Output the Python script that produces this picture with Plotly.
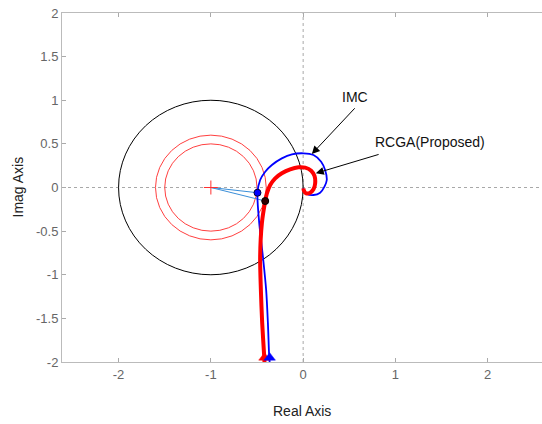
import plotly.graph_objects as go

# ---- data ----
imc_x = [-0.363, -0.368, -0.382, -0.401, -0.436, -0.476, -0.495, -0.466, -0.411, -0.339, -0.231,
         -0.122, 0.003, 0.112, 0.195, 0.238, 0.256, 0.231, 0.184, 0.112, 0.04, 0.003, 0.003]
imc_y = [-2.0, -1.938, -1.552, -1.174, -0.793, -0.407, -0.06, 0.086, 0.181, 0.258, 0.334,
         0.38, 0.392, 0.372, 0.296, 0.2, 0.086, 0.01, -0.06, -0.086, -0.074, -0.036, -0.01]

rcga_x = [-0.419, -0.422, -0.444, -0.458, -0.466, -0.447, -0.411, -0.393, -0.357, -0.303, -0.231,
          -0.141, -0.05, 0.022, 0.087, 0.123, 0.13, 0.112, 0.076, 0.032, 0.008, 0.003]
rcga_y = [-2.0, -1.938, -1.552, -1.174, -0.793, -0.407, -0.155, -0.067, 0.029, 0.105, 0.163,
          0.208, 0.231, 0.227, 0.193, 0.132, 0.048, -0.021, -0.06, -0.067, -0.037, -0.01]

critical_point = (-1.0, 0.0)
imc_dot = (-0.495, -0.06)
rcga_dot = (-0.411, -0.155)

circle_center = (-1.0, 0.0)
unit_radius = 1.0
red_radii = [0.5, 0.6]

arrow_x = [-0.419, -0.363]
arrow_y = [-1.95, -1.95]
arrow_colors = ["#ff0000", "#0000ff"]

x_ticks = [-2, -1, 0, 1, 2]
y_ticks = [-2, -1.5, -1, -0.5, 0, 0.5, 1, 1.5, 2]
y_tick_text = ["-2", "-1.5", "-1", "-0.5", "0", "0.5", "1", "1.5", "2"]

labels = [
    dict(text="IMC", tx=0.563, ty=1.04, ax=0.574, ay=0.925, hx=0.094, hy=0.384),
    dict(text="RCGA(Proposed)", tx=1.375, ty=0.525, ax=0.834, ay=0.384, hx=0.137, hy=0.163),
]

FONT = "Liberation Sans, Arial, sans-serif"

fig = go.Figure()

# lines from critical point to the dots
for d in (imc_dot, rcga_dot):
    fig.add_trace(go.Scatter(x=[critical_point[0], d[0]], y=[critical_point[1], d[1]],
                             mode="lines", line=dict(color="#3a8ed8", width=1),
                             showlegend=False, hoverinfo="skip"))

fig.add_trace(go.Scatter(x=imc_x, y=imc_y, mode="lines",
                         line=dict(color="#0000ff", width=1.8, shape="spline", smoothing=0.8),
                         showlegend=False))
fig.add_trace(go.Scatter(x=rcga_x, y=rcga_y, mode="lines",
                         line=dict(color="#ff0000", width=4, shape="spline", smoothing=0.8),
                         showlegend=False))

fig.add_trace(go.Scatter(x=[critical_point[0]], y=[critical_point[1]], mode="markers",
                         marker=dict(symbol="cross-thin", size=10, line=dict(color="#ff3030", width=1)),
                         showlegend=False))
fig.add_trace(go.Scatter(x=[imc_dot[0]], y=[imc_dot[1]], mode="markers",
                         marker=dict(size=7, color="#0000ff", line=dict(color="#000033", width=1)),
                         showlegend=False))
fig.add_trace(go.Scatter(x=[rcga_dot[0]], y=[rcga_dot[1]], mode="markers",
                         marker=dict(size=7, color="#330000", line=dict(color="#000000", width=1)),
                         showlegend=False))
fig.add_trace(go.Scatter(x=arrow_x, y=arrow_y, mode="markers", cliponaxis=False,
                         marker=dict(symbol="triangle-up", size=10, color=arrow_colors,
                                     line=dict(color=arrow_colors, width=0.5)),
                         showlegend=False))

shapes = []
shapes.append(dict(type="circle", xref="x", yref="y",
                   x0=circle_center[0] - unit_radius, x1=circle_center[0] + unit_radius,
                   y0=circle_center[1] - unit_radius, y1=circle_center[1] + unit_radius,
                   line=dict(color="#000000", width=1), layer="below"))
for r in red_radii:
    shapes.append(dict(type="circle", xref="x", yref="y",
                       x0=circle_center[0] - r, x1=circle_center[0] + r,
                       y0=circle_center[1] - r, y1=circle_center[1] + r,
                       line=dict(color="#ff4040", width=1), layer="below"))
shapes.append(dict(type="line", xref="x", yref="paper", x0=0, x1=0, y0=0, y1=1,
                   line=dict(color="#a8a8a8", width=1, dash="dot"), layer="below"))
shapes.append(dict(type="line", xref="paper", yref="y", x0=0, x1=1, y0=0, y1=0,
                   line=dict(color="#a8a8a8", width=1, dash="dot"), layer="below"))

annotations = []
for L in labels:
    annotations.append(dict(x=L["tx"], y=L["ty"], xref="x", yref="y", text=L["text"], showarrow=False,
                            font=dict(family=FONT, size=14, color="#111111")))
    annotations.append(dict(x=L["hx"], y=L["hy"], ax=L["ax"], ay=L["ay"], xref="x", yref="y",
                            axref="x", ayref="y", text="", showarrow=True, arrowhead=2,
                            arrowsize=1.6, arrowwidth=1, arrowcolor="#000000"))
# axis titles
annotations.append(dict(x=0.5, y=0, xref="paper", yref="paper", yshift=-49, yanchor="middle",
                        text="Real Axis", showarrow=False,
                        font=dict(family=FONT, size=14, color="#222222")))
annotations.append(dict(x=0, y=0.5, xref="paper", yref="paper", xshift=-45, xanchor="center",
                        text="Imag Axis", showarrow=False, textangle=-90,
                        font=dict(family=FONT, size=14, color="#222222")))

fig.update_layout(
    width=542, height=424,
    margin=dict(l=62, r=0, t=13, b=62, autoexpand=False),
    paper_bgcolor="white", plot_bgcolor="white",
    font=dict(family=FONT, size=13, color="#555555"),
    shapes=shapes, annotations=annotations,
    xaxis=dict(range=[-2.613, 2.588], tickvals=x_ticks, ticktext=[str(v) for v in x_ticks],
               automargin=False, ticklabeloverflow="allow",
               showgrid=False, zeroline=False, showline=True, linecolor="#bbbbbb", linewidth=1,
               mirror="ticks", ticks="inside", ticklen=4, tickcolor="#aaaaaa",
               tickfont=dict(color="#666666", size=13)),
    yaxis=dict(range=[-2, 2], tickvals=y_ticks, ticktext=y_tick_text,
               automargin=False, ticklabeloverflow="allow",
               showgrid=False, zeroline=False, showline=True, linecolor="#bbbbbb", linewidth=1,
               ticks="inside", ticklen=4, tickcolor="#aaaaaa",
               tickfont=dict(color="#666666", size=13)),
)

fig.write_html("out.html", config={"displayModeBar": False},
               post_script="document.body.style.margin='0';document.body.style.overflow='hidden';")
